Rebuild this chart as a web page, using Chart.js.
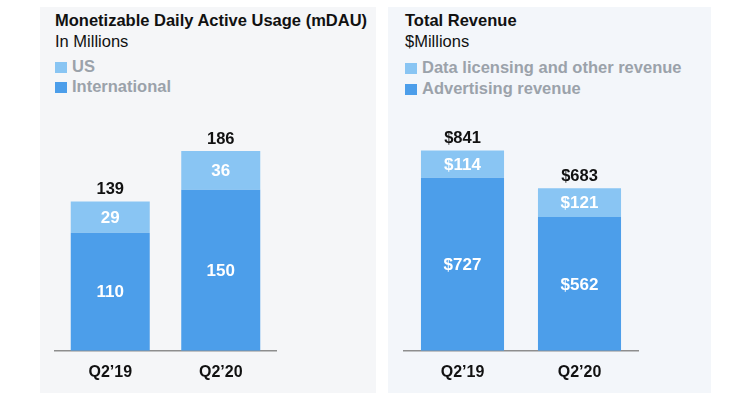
<!DOCTYPE html>
<html>
<head>
<meta charset="utf-8">
<script src="https://cdn.jsdelivr.net/npm/chart.js@4/dist/chart.umd.min.js"></script>
<style>
  html, body { margin:0; padding:0; background:#ffffff; width:750px; height:407px; overflow:hidden; }
  body { position:relative; font-family:"Liberation Sans", Arial, Helvetica, sans-serif; }
  .panel { position:absolute; }
  .t { position:absolute; font-size:16.5px; line-height:20px; white-space:nowrap; }
  .title { font-weight:bold; color:#111111; }
  .sub { color:#111111; }
  .leg { font-weight:bold; color:#9BA2AA; }
  .sw { display:inline-block; width:12px; height:11px; margin-right:5px; vertical-align:-1px; }
  canvas { position:absolute; }
</style>
</head>
<body>
<div class="panel" style="left:40px;top:7px;width:336px;height:386px;background:#F5F6F8"></div>
<div class="panel" style="left:388px;top:7px;width:323px;height:386px;background:#F3F6FA"></div>

<div class="t title" style="left:55px;top:10px">Monetizable Daily Active Usage (mDAU)</div>
<div class="t sub" style="left:55px;top:31px">In Millions</div>
<div class="t leg" style="left:55px;top:56px"><span class="sw" style="background:#89C5F3"></span>US</div>
<div class="t leg" style="left:55px;top:76px"><span class="sw" style="background:#4C9EEA"></span>International</div>

<div class="t title" style="left:405px;top:10px">Total Revenue</div>
<div class="t sub" style="left:405px;top:31px">$Millions</div>
<div class="t leg" style="left:405px;top:57px"><span class="sw" style="background:#89C5F3"></span>Data licensing and other revenue</div>
<div class="t leg" style="left:405px;top:78px"><span class="sw" style="background:#4C9EEA"></span>Advertising revenue</div>

<canvas id="c1" width="336" height="294" style="left:40px;top:100px"></canvas>
<canvas id="c2" width="323" height="294" style="left:388px;top:100px"></canvas>

<script>
// ---- data ----
const quarters = ["Q2\u201919", "Q2\u201920"];
const mdauInternational = [110, 150];
const mdauUS = [29, 36];
const revAdvertising = [727, 562];
const revDataLicensing = [114, 121];
const mdauTotals = [139, 186];
const revTotals = [841, 683];

const LIGHT = "#89C5F3";
const DARK = "#4C9EEA";
const FONT = "'Liberation Sans', Arial, Helvetica, sans-serif";

const labelPlugin = {
  id: "barLabels",
  afterDatasetsDraw(chart, args, opts) {
    const ctx = chart.ctx;
    ctx.save();
    ctx.textAlign = "center";
    ctx.textBaseline = "middle";
    ctx.font = "bold 17px " + FONT;
    chart.data.datasets.forEach((ds, di) => {
      const meta = chart.getDatasetMeta(di);
      meta.data.forEach((bar, i) => {
        ctx.fillStyle = "#ffffff";
        ctx.fillText(opts.prefix + ds.data[i], bar.x, (bar.y + bar.base) / 2 + 1);
      });
    });
    ctx.font = "bold 16.5px " + FONT;
    const topMeta = chart.getDatasetMeta(chart.data.datasets.length - 1);
    topMeta.data.forEach((bar, i) => {
      ctx.fillStyle = "#111111";
      ctx.fillText(opts.prefix + opts.totals[i], bar.x, bar.y - 12);
    });
    ctx.restore();
  }
};

function makeChart(id, bottomData, topData, bottomLabel, topLabel, yMax, pad, prefix, totals, barPct) {
  return new Chart(document.getElementById(id), {
    type: "bar",
    data: {
      labels: quarters,
      datasets: [
        { label: bottomLabel, data: bottomData, backgroundColor: DARK, borderWidth: 0 },
        { label: topLabel, data: topData, backgroundColor: LIGHT, borderWidth: 0 }
      ]
    },
    options: {
      responsive: false,
      animation: false,
      events: [],
      layout: { padding: pad },
      datasets: { bar: { barPercentage: barPct, categoryPercentage: 1 } },
      plugins: {
        legend: { display: false },
        tooltip: { enabled: false },
        barLabels: { prefix: prefix, totals: totals }
      },
      scales: {
        x: {
          stacked: true,
          grid: { display: false, drawTicks: false },
          border: { display: true, color: "#8E8E8E", width: 1.5 },
          ticks: { color: "#111111", padding: 12, font: { family: FONT, size: 16, weight: "bold" } }
        },
        y: {
          stacked: true,
          display: false,
          min: 0,
          max: yMax
        }
      }
    },
    plugins: [labelPlugin]
  });
}

makeChart("c1", mdauInternational, mdauUS, "International", "US", 200,
  { left: 15, right: 100, top: 36, bottom: 0 }, "", mdauTotals, 0.715);
makeChart("c2", revAdvertising, revDataLicensing, "Advertising revenue", "Data licensing and other revenue", 900,
  { left: 16, right: 73, top: 36.5, bottom: 0 }, "$", revTotals, 0.71);
</script>
</body>
</html>
